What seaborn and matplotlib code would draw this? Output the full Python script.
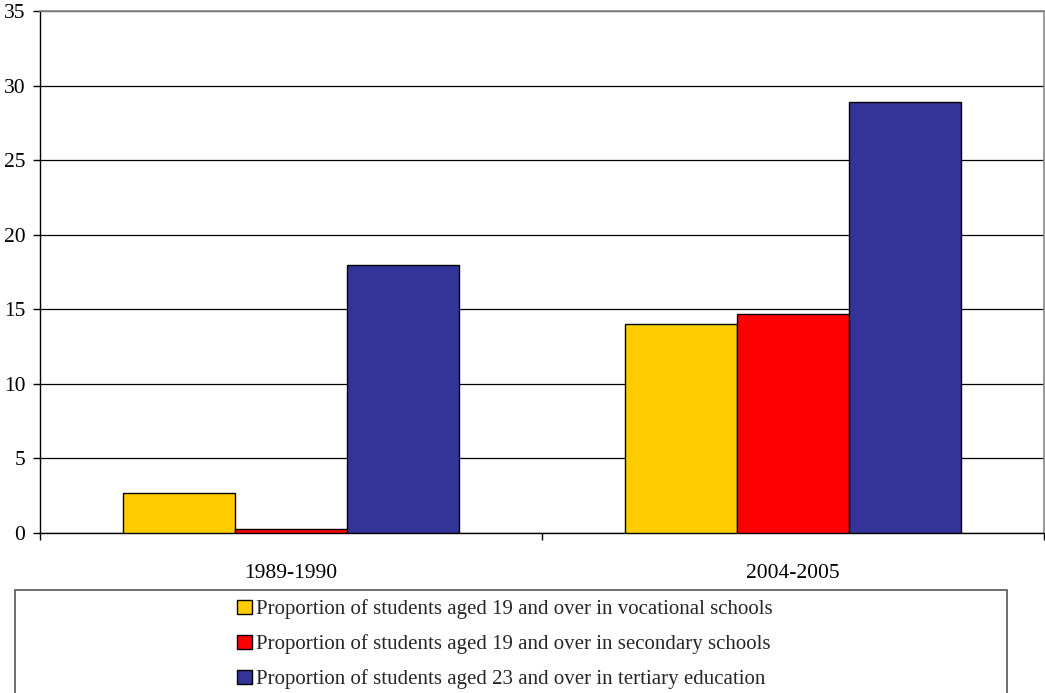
import matplotlib
matplotlib.use("Agg")
import matplotlib.pyplot as plt
from matplotlib.patches import Rectangle
import pandas as pd
import seaborn as sns

periods = ["1989-1990", "2004-2005"]
series = [
    "Proportion of students aged 19 and over in vocational schools",
    "Proportion of students aged 19 and over in secondary schools",
    "Proportion of students aged 23 and over in tertiary education",
]
vocational = [2.7, 14.0]
secondary = [0.3, 14.7]
tertiary = [18.0, 28.9]
colors = ["#FFCC00", "#FF0000", "#333399"]
y_ticks = [0, 5, 10, 15, 20, 25, 30, 35]

rows = []
for name, vals in zip(series, [vocational, secondary, tertiary]):
    for p, v in zip(periods, vals):
        rows.append({"period": p, "series": name, "value": v})
df = pd.DataFrame(rows)

sns.set_theme(style="white")
plt.rcParams["font.family"] = ["Liberation Serif", "DejaVu Serif"]

fig = plt.figure(figsize=(10.45, 6.93), dpi=100)
ax = fig.add_axes([40 / 1045, 1 - 533 / 693, 1004 / 1045, 522 / 693])

sns.barplot(data=df, x="period", y="value", hue="series", order=periods,
            hue_order=series, palette=colors, width=0.67, saturation=1,
            edgecolor="black", linewidth=1.0, ax=ax, legend=False, zorder=3)

ax.set_xlim(-0.5, 1.5)
ax.set_ylim(0, 35)
ax.set_xlabel("")
ax.set_ylabel("")

# horizontal gridlines
ax.set_yticks(y_ticks)
ax.set_yticklabels([str(t) for t in y_ticks], fontsize=15.5, color="black")
ax.yaxis.grid(True, color="black", linewidth=0.9, zorder=0)
ax.set_axisbelow(True)

# category separators as major ticks, labels at category centers
ax.set_xticks([-0.5, 0.5, 1.5])
ax.set_xticklabels(["", "", ""])
ax.set_xticks([0, 1], minor=True)
ax.set_xticklabels(periods, minor=True, fontsize=15.5, color="black")
ax.tick_params(axis="x", which="minor", length=0, pad=22)
ax.tick_params(axis="x", which="major", direction="out", length=5,
               width=1, color="black", bottom=True)
ax.tick_params(axis="y", direction="out", length=5, width=1,
               color="black", left=True, pad=5.5)

for side in ["top", "right"]:
    ax.spines[side].set_color("#888888")
    ax.spines[side].set_linewidth(1.2)
for side in ["left", "bottom"]:
    ax.spines[side].set_color("black")
    ax.spines[side].set_linewidth(1.0)

# legend box
fig.patches.append(Rectangle((15 / 1045, -0.05), 992 / 1045, 0.05 + 103 / 693,
                             transform=fig.transFigure, facecolor="white",
                             edgecolor="#555555", linewidth=1.2))
handles = [Rectangle((0, 0), 1, 1, facecolor=c, edgecolor="black", linewidth=1)
           for c in colors]
fig.legend(handles, series, loc="upper left",
           bbox_to_anchor=(227 / 1045, 1 - 589 / 693), frameon=False,
           fontsize=15, handlelength=0.68, handleheight=0.68,
           handletextpad=0.22, labelspacing=0.72, borderpad=0)

fig.savefig("out.png", dpi=100)
